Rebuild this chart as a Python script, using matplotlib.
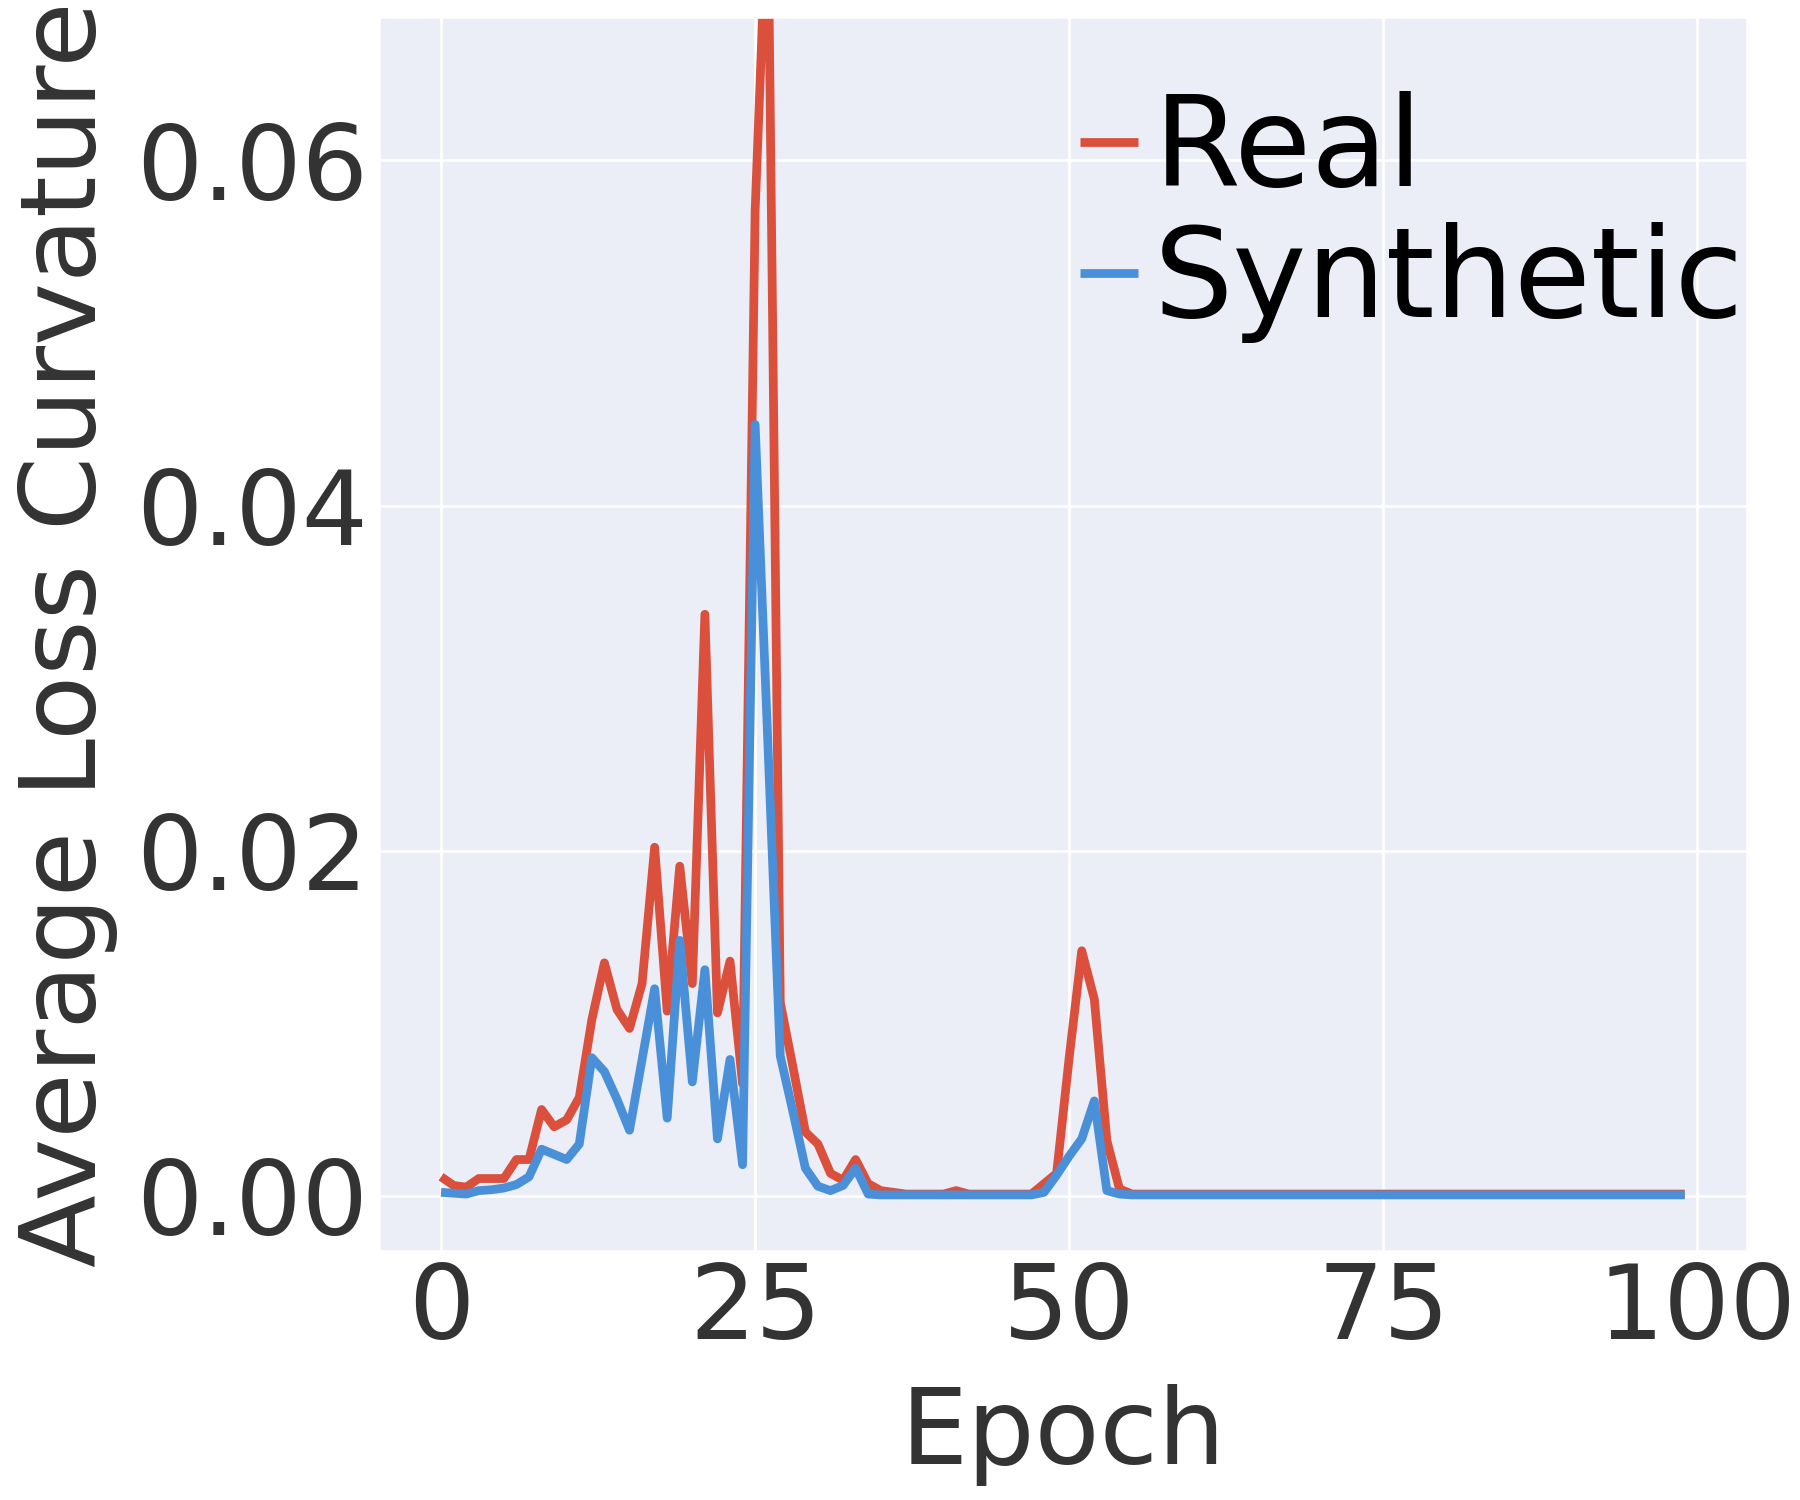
import matplotlib
matplotlib.use("Agg")
import matplotlib.pyplot as plt
import numpy as np
import seaborn as sns

sns.set_theme(style="darkgrid")
plt.rcParams['font.family'] = ['DejaVu Sans']
plt.rcParams['lines.solid_capstyle'] = 'butt'

# per-epoch curvature
epochs = np.arange(100)
real_curv = [
    0.0011, 0.0006, 0.0005, 0.0010, 0.0010, 0.0010, 0.0021, 0.0021, 0.0050, 0.0040,
    0.0044, 0.0057, 0.0102, 0.0135, 0.0108, 0.0097, 0.0123, 0.0202, 0.0107, 0.0191,
    0.0123, 0.0337, 0.0106, 0.0136, 0.0065, 0.0571, 0.0760, 0.0112, 0.0075, 0.0037,
    0.0030, 0.0013, 0.0009, 0.0021, 0.0007, 0.0003, 0.0002, 0.0001, 0.0001, 0.0001,
    0.0001, 0.0003, 0.0001, 0.0001, 0.0001, 0.0001, 0.0001, 0.0001, 0.0007, 0.0013,
    0.0080, 0.0142, 0.0114, 0.0032, 0.0004, 0.0001, 0.0001, 0.0001, 0.0001, 0.0001,
    0.0001, 0.0001, 0.0001, 0.0001, 0.0001, 0.0001, 0.0001, 0.0001, 0.0001, 0.0001,
    0.0001, 0.0001, 0.0001, 0.0001, 0.0001, 0.0001, 0.0001, 0.0001, 0.0001, 0.0001,
    0.0001, 0.0001, 0.0001, 0.0001, 0.0001, 0.0001, 0.0001, 0.0001, 0.0001, 0.0001,
    0.0001, 0.0001, 0.0001, 0.0001, 0.0001, 0.0001, 0.0001, 0.0001, 0.0001, 0.0001,
]
synth_curv = [
    0.0002, 0.00015, 0.0001, 0.0003, 0.00035, 0.00045, 0.00065, 0.0011, 0.0027, 0.0024,
    0.0021, 0.0030, 0.0080, 0.0072, 0.0056, 0.0038, 0.0079, 0.0120, 0.0045, 0.0148,
    0.0066, 0.0131, 0.0033, 0.0079, 0.0018, 0.0447, 0.0265, 0.0081, 0.0049, 0.0016,
    0.00055, 0.0003, 0.0006, 0.0016, 0.0001, 0.00005, 0.00005, 0.00005, 0.00005, 0.00005,
    0.00005, 0.00005, 0.00005, 0.00005, 0.00005, 0.00005, 0.00005, 0.00005, 0.0002, 0.0012,
    0.0023, 0.0033, 0.0055, 0.0003, 0.0001, 0.00005, 0.00005, 0.00005, 0.00005, 0.00005,
    0.00005, 0.00005, 0.00005, 0.00005, 0.00005, 0.00005, 0.00005, 0.00005, 0.00005, 0.00005,
    0.00005, 0.00005, 0.00005, 0.00005, 0.00005, 0.00005, 0.00005, 0.00005, 0.00005, 0.00005,
    0.00005, 0.00005, 0.00005, 0.00005, 0.00005, 0.00005, 0.00005, 0.00005, 0.00005, 0.00005,
    0.00005, 0.00005, 0.00005, 0.00005, 0.00005, 0.00005, 0.00005, 0.00005, 0.00005, 0.00005,
]

fig = plt.figure(figsize=(12, 10), dpi=150)
ax = fig.add_axes([0.2105, 0.166, 0.76, 0.8225])
ax.set_facecolor('#EBEEF6')

ax.plot(epochs, real_curv, color='#DB4F3D', lw=4.2, label='Real')
ax.plot(epochs, synth_curv, color='#4A90D9', lw=4.2, label='Synthetic')

ax.set_ylim(-0.0032, 0.0683)
ax.set_xticks([0, 25, 50, 75, 100])
ax.set_yticks([0.00, 0.02, 0.04, 0.06])
ax.grid(True, color='white', lw=1.3)
ax.tick_params(labelsize=50, labelcolor='.2', length=0)
ax.tick_params(axis='y', pad=5)
ax.tick_params(axis='x', pad=4.5)

ax.set_xlabel('Epoch', fontsize=51, color='.2', labelpad=11)
ax.set_ylabel('Average Loss Curvature', fontsize=51, color='.2', labelpad=9)

ax.legend(fontsize=60, frameon=False, loc='upper right', bbox_to_anchor=(1.0, 0.9425),
          handlelength=0.46, handletextpad=0.13, labelspacing=0.08,
          borderaxespad=0.0, borderpad=0.02, labelcolor='black')

fig.savefig('out.png', dpi=150)
